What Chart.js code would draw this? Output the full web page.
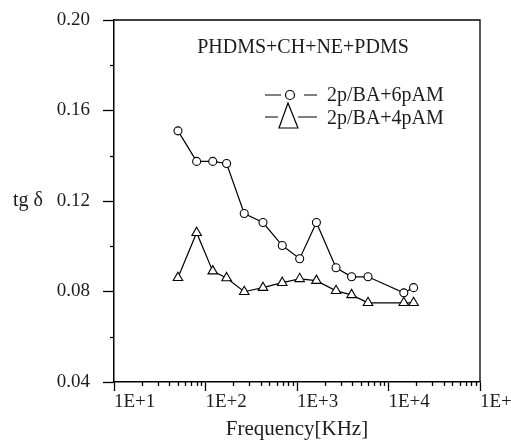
<!DOCTYPE html>
<html>
<head>
<meta charset="utf-8">
<script src="https://cdn.jsdelivr.net/npm/chart.js@4.4.1/dist/chart.umd.min.js"></script>
<style>
    html, body { margin: 0; padding: 0; background: #fff; }
    #wrap { width: 511px; height: 442px; }
</style>
</head>
<body>
<div id="wrap"><canvas id="graficTg"></canvas></div>
<script>
// frequencia em KHz (eixo log)
let frequencia = [50, 80, 120, 170, 265, 425, 690, 1070, 1630, 2670, 3950, 5970, 14700, 18800]
let tg6pAM = [0.151, 0.1375, 0.1375, 0.1366, 0.1145, 0.1105, 0.1003, 0.0945, 0.1105, 0.0905, 0.0865, 0.0865, 0.0794, 0.0817]
let tg4pAM = [0.0861, 0.106, 0.089, 0.086, 0.0799, 0.0817, 0.0839, 0.0856, 0.0848, 0.0803, 0.0785, 0.075, 0.075, 0.075]

let nomes = ['2p/BA+6pAM', '2p/BA+4pAM']
let titulo = 'PHDMS+CH+NE+PDMS'
let decadas = [10, 100, 1000, 10000, 100000]
let rotulosX = ['1E+1', '1E+2', '1E+3', '1E+4', '1E+5']

const fonte = '"Liberation Serif", "Times New Roman", serif'
const corTexto = '#1c1c1c'

const pontos = (xs, ys) => xs.map((x, i) => ({ x: x, y: ys[i] }))

// ticks menores mais curtos, moldura, legenda e rotulo tg δ
const extras = {
    id: 'extras',
    afterDraw(chart) {
        const ctx = chart.ctx
        const a = chart.chartArea
        const sx = chart.scales.x
        const sy = chart.scales.y
        ctx.save()
        ctx.strokeStyle = '#000'
        ctx.lineWidth = 1.3

        // ticks menores
        sx.ticks.forEach(t => {
            if (t.major) return
            let px = Math.round(sx.getPixelForValue(t.value)) + 0.5
            ctx.beginPath()
            ctx.moveTo(px, a.bottom)
            ctx.lineTo(px, a.bottom + 4)
            ctx.stroke()
        })
        sy.ticks.forEach(t => {
            if (t.major) return
            let py = Math.round(sy.getPixelForValue(t.value)) + 0.5
            ctx.beginPath()
            ctx.moveTo(a.left - 4, py)
            ctx.lineTo(a.left, py)
            ctx.stroke()
        })

        // moldura
        ctx.beginPath()
        ctx.moveTo(a.left, a.top)
        ctx.lineTo(a.right, a.top)
        ctx.lineTo(a.right, a.bottom)
        ctx.stroke()

        ctx.fillStyle = corTexto
        ctx.textBaseline = 'middle'

        // titulo dentro do grafico
        ctx.font = '20px ' + fonte
        ctx.textAlign = 'center'
        ctx.fillText(titulo, 303, 48)

        // legenda
        ctx.textAlign = 'left'
        ctx.lineWidth = 1.2
        ctx.beginPath()
        ctx.moveTo(265, 95); ctx.lineTo(281, 95)
        ctx.moveTo(304, 95); ctx.lineTo(317, 95)
        ctx.stroke()
        ctx.beginPath()
        ctx.arc(290, 95, 4.5, 0, Math.PI * 2)
        ctx.fillStyle = '#fff'
        ctx.fill()
        ctx.stroke()

        ctx.beginPath()
        ctx.moveTo(265, 117); ctx.lineTo(278, 117)
        ctx.moveTo(298, 117); ctx.lineTo(317, 117)
        ctx.stroke()
        ctx.beginPath()
        ctx.moveTo(288, 103)
        ctx.lineTo(298, 128)
        ctx.lineTo(279, 128)
        ctx.closePath()
        ctx.fill()
        ctx.stroke()

        ctx.fillStyle = corTexto
        ctx.fillText(chart.data.datasets[0].label, 327, 96)
        ctx.fillText(chart.data.datasets[1].label, 327, 119)

        // rotulo do eixo y
        ctx.font = '20px ' + fonte
        ctx.fillText('tg δ', 13, sy.getPixelForValue(0.12))
        ctx.restore()
    }
}

const graficTg = document.getElementById('graficTg')

new Chart(graficTg, {
    type: 'line',
    data: {
        datasets: [{
            label: nomes[0],
            data: pontos(frequencia, tg6pAM),
            borderColor: '#000',
            borderWidth: 1.2,
            pointStyle: 'circle',
            pointRadius: 4,
            pointBackgroundColor: '#fff',
            pointBorderColor: '#000',
            pointBorderWidth: 1.1,
            tension: 0
        }, {
            label: nomes[1],
            data: pontos(frequencia, tg4pAM),
            borderColor: '#000',
            borderWidth: 1.2,
            pointStyle: 'triangle',
            pointRadius: 5.5,
            pointBackgroundColor: '#fff',
            pointBorderColor: '#000',
            pointBorderWidth: 1.1,
            tension: 0
        }]
    },
    options: {
        responsive: true,
        maintainAspectRatio: false,
        animation: false,
        layout: { padding: { top: 20, right: 31, left: 0, bottom: 0 } },
        plugins: {
            legend: { display: false },
            tooltip: { enabled: false }
        },
        scales: {
            x: {
                type: 'logarithmic',
                min: 10,
                max: 100000,
                afterBuildTicks: (s) => {
                    let t = []
                    decadas.forEach((d, i) => {
                        if (i === decadas.length - 1) {
                            t.push({ value: d, major: true })
                            return
                        }
                        for (let k = 1; k < 10; k++) {
                            t.push({ value: d * k, major: k === 1 })
                        }
                    })
                    s.ticks = t
                },
                afterFit: (s) => {
                    s.height = 60
                    s.paddingLeft = 0
                    s.paddingRight = 0
                },
                border: { display: true, color: '#000', width: 1.5 },
                grid: {
                    drawOnChartArea: false,
                    tickLength: 9,
                    tickWidth: 1.3,
                    tickColor: (c) => (c.tick && c.tick.major) ? '#000' : 'rgba(0,0,0,0)'
                },
                ticks: {
                    autoSkip: false,
                    maxRotation: 0,
                    align: 'start',
                    padding: 0,
                    color: corTexto,
                    font: { family: fonte, size: 19 },
                    callback: (v) => {
                        let i = decadas.indexOf(v)
                        return i >= 0 ? rotulosX[i] : ''
                    }
                },
                title: {
                    display: true,
                    text: 'Frequency[KHz]',
                    color: corTexto,
                    font: { family: fonte, size: 21 },
                    padding: { top: 2, bottom: 0 }
                }
            },
            y: {
                min: 0.04,
                max: 0.20,
                afterBuildTicks: (s) => {
                    let t = []
                    for (let k = 4; k <= 20; k += 2) {
                        t.push({ value: k / 100, major: k % 4 === 0 })
                    }
                    s.ticks = t
                },
                afterFit: (s) => {
                    s.width = 114
                    s.paddingTop = 0
                    s.paddingBottom = 0
                },
                border: { display: true, color: '#000', width: 1.5 },
                grid: {
                    drawOnChartArea: false,
                    tickLength: 11,
                    tickWidth: 1.3,
                    tickColor: (c) => (c.tick && c.tick.major) ? '#000' : 'rgba(0,0,0,0)'
                },
                ticks: {
                    autoSkip: false,
                    padding: 13,
                    color: corTexto,
                    font: { family: fonte, size: 19 },
                    callback: (v) => {
                        let n = Math.round(v * 100)
                        return n % 4 === 0 ? v.toFixed(2) : ''
                    }
                }
            }
        }
    },
    plugins: [extras]
})
</script>
</body>
</html>
